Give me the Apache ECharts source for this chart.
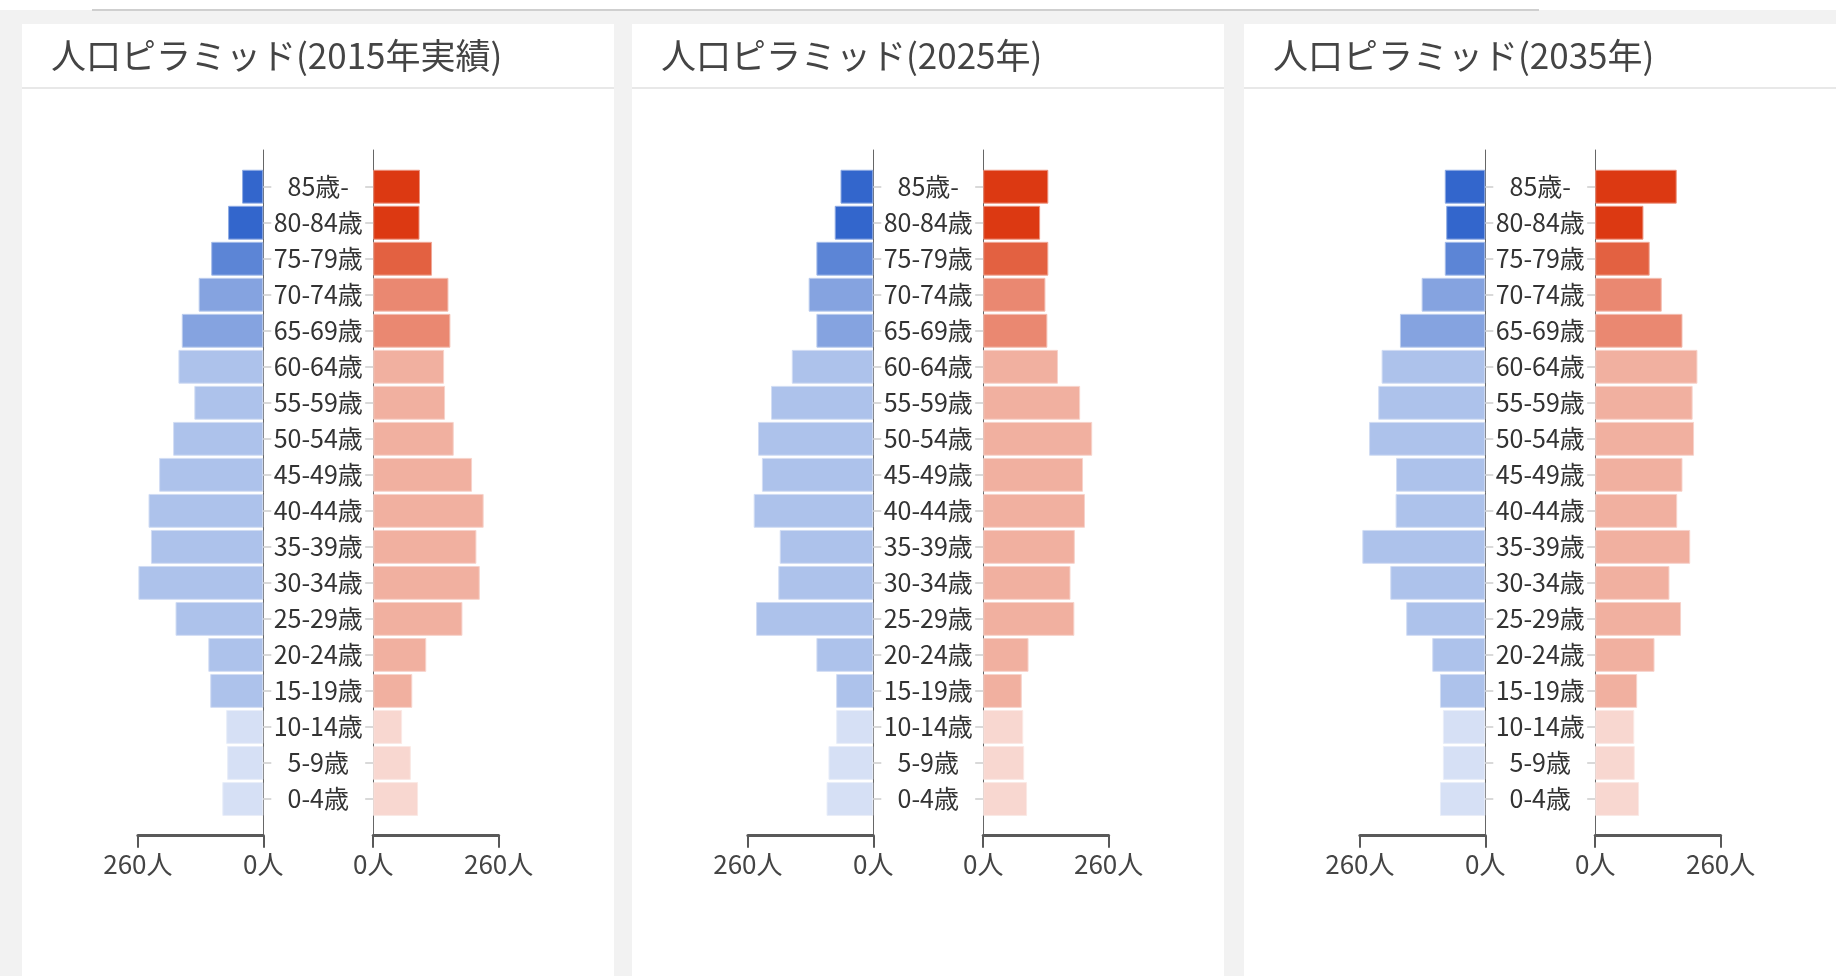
<!DOCTYPE html>
<html>
<head>
<meta charset="utf-8">
<script src="https://cdn.jsdelivr.net/npm/echarts@6/dist/echarts.min.js"></script>
<style>
html,body{margin:0;padding:0;width:1836px;height:976px;overflow:hidden;background:#f2f2f2;}
#topbar{position:absolute;left:0;top:0;width:1836px;height:10px;background:#fff;}
#topline{position:absolute;left:92px;top:9px;width:1447px;height:2px;background:#cfcfcf;}
.panel{position:absolute;top:24px;width:592px;height:952px;background:#fff;}
.panel .hdr{position:absolute;left:0;top:0;right:0;height:63px;border-bottom:2px solid #e8e8e8;}
#chart{position:absolute;left:0;top:0;width:1836px;height:976px;}
</style>
</head>
<body>
<div id="topbar"></div>
<div id="topline"></div>
<div class="panel" style="left:22px"><div class="hdr"></div></div>
<div class="panel" style="left:632px"><div class="hdr"></div></div>
<div class="panel" style="left:1244px"><div class="hdr"></div></div>
<div id="chart"></div>
<script>
// ---- data ----
const ageGroups = ['85歳-','80-84歳','75-79歳','70-74歳','65-69歳','60-64歳','55-59歳','50-54歳','45-49歳','40-44歳','35-39歳','30-34歳','25-29歳','20-24歳','15-19歳','10-14歳','5-9歳','0-4歳'];
const titles = ['人口ピラミッド(2015年実績)', '人口ピラミッド(2025年)', '人口ピラミッド(2035年)'];
const male2015   = [44, 73, 108, 134, 169, 176, 143, 187, 216, 238, 233, 259, 182, 114, 110, 77, 75, 85];
const female2015 = [97, 96, 122, 156, 160, 147, 149, 167, 205, 229, 214, 221, 185, 110, 81, 60, 78, 93];
const male2025   = [68, 80, 118, 134, 118, 169, 212, 239, 231, 248, 194, 197, 243, 118, 77, 77, 93, 97];
const female2025 = [135, 118, 135, 129, 133, 155, 201, 226, 207, 211, 190, 181, 189, 94, 80, 83, 85, 91];
const male2035   = [84, 81, 84, 132, 177, 215, 222, 241, 185, 186, 255, 197, 164, 110, 94, 88, 88, 94];
const female2035 = [169, 100, 113, 138, 181, 212, 202, 205, 181, 170, 197, 154, 178, 123, 87, 81, 82, 91];
const axisTickValues = [0, 260];
const axisUnit = '人';

// ---- style ----
const shadeOpacity = [1, 1, 0.8, 0.6, 0.6, 0.4, 0.4, 0.4, 0.4, 0.4, 0.4, 0.4, 0.4, 0.4, 0.4, 0.2, 0.2, 0.2];
const maleBase = '#3366cc', femaleBase = '#dc3912';
const FONT = '"Noto Sans CJK JP", "Noto Sans", sans-serif';

const panelLeft = [22, 632, 1244];
const zeroMale = 241.3, zeroFemale = 351.2, halfWidth = 125.4;
const barTop = 168.7, barBottom = 817, frameTop = 150, frameBottom = 835.7;

function tint(hex, a) {
  const n = parseInt(hex.slice(1), 16);
  const r = (n >> 16) & 255, g = (n >> 8) & 255, b = n & 255;
  const m = c => Math.round(c * a + 255 * (1 - a));
  return 'rgb(' + m(r) + ',' + m(g) + ',' + m(b) + ')';
}

const panels = [
  { male: male2015, female: female2015 },
  { male: male2025, female: female2025 },
  { male: male2035, female: female2035 }
];

const grid = [], xAxis = [], yAxis = [], series = [], title = [];
const vmin = axisTickValues[0], vmax = axisTickValues[axisTickValues.length - 1];
const tickInterval = axisTickValues[1] - axisTickValues[0];

panels.forEach((p, i) => {
  const L = panelLeft[i];
  title.push({
    text: titles[i], left: L + 29, top: 38, padding: 0,
    textStyle: { fontFamily: FONT, fontSize: 35, fontWeight: 'normal', color: '#444' }
  });
  const sides = [
    { key: 'male', left: L + zeroMale - halfWidth, inverse: true, pos: 'right', base: maleBase, showLabel: true },
    { key: 'female', left: L + zeroFemale, inverse: false, pos: 'left', base: femaleBase, showLabel: false }
  ];
  sides.forEach(s => {
    // bar grid
    const gi = grid.length;
    grid.push({ left: s.left, top: barTop, width: halfWidth, height: barBottom - barTop, containLabel: false });
    xAxis.push({ gridIndex: gi, type: 'value', min: vmin, max: vmax, inverse: s.inverse, show: false });
    yAxis.push({
      gridIndex: gi, type: 'category', data: ageGroups, inverse: true, position: s.pos,
      axisLine: { show: false },
      axisTick: { show: true, alignWithLabel: true, length: 8, lineStyle: { color: '#d9d9d9', width: 2 } },
      axisLabel: {
        show: s.showLabel, interval: 0, align: 'center', margin: (zeroFemale - zeroMale) / 2,
        fontFamily: FONT, fontSize: 25, color: '#333', padding: [0, 0, 5, 0]
      },
      splitLine: { show: false }
    });
    series.push({
      type: 'bar', xAxisIndex: gi, yAxisIndex: gi, barCategoryGap: '6%',
      name: s.key,
      data: p[s.key].map((v, k) => ({
        value: v,
        itemStyle: { color: tint(s.base, shadeOpacity[k]), borderColor: tint(s.base, shadeOpacity[k] * 0.55), borderWidth: 1 }
      })),
      animation: false
    });
    // frame grid (axis lines)
    const fi = grid.length;
    grid.push({ left: s.left, top: frameTop, width: halfWidth, height: frameBottom - frameTop });
    xAxis.push({
      gridIndex: fi, type: 'value', min: vmin, max: vmax, interval: tickInterval, inverse: s.inverse, position: 'bottom',
      axisLine: { show: true, onZero: false, lineStyle: { color: '#595959', width: 3 } },
      axisTick: { show: true, length: 12, lineStyle: { color: '#595959', width: 2 } },
      axisLabel: { formatter: '{value}' + axisUnit, fontFamily: FONT, fontSize: 26, color: '#444', margin: 15 },
      splitLine: { show: false }
    });
    yAxis.push({
      gridIndex: fi, type: 'value', min: 0, max: 1, position: s.pos,
      axisLine: { show: true, onZero: false, lineStyle: { color: '#666', width: 1 } },
      axisTick: { show: false }, axisLabel: { show: false }, splitLine: { show: false }
    });
  });
});

const chart = echarts.init(document.getElementById('chart'), null, { renderer: 'canvas' });
chart.setOption({
  animation: false,
  backgroundColor: 'transparent',
  title, grid, xAxis, yAxis, series
});
</script>
</body>
</html>
